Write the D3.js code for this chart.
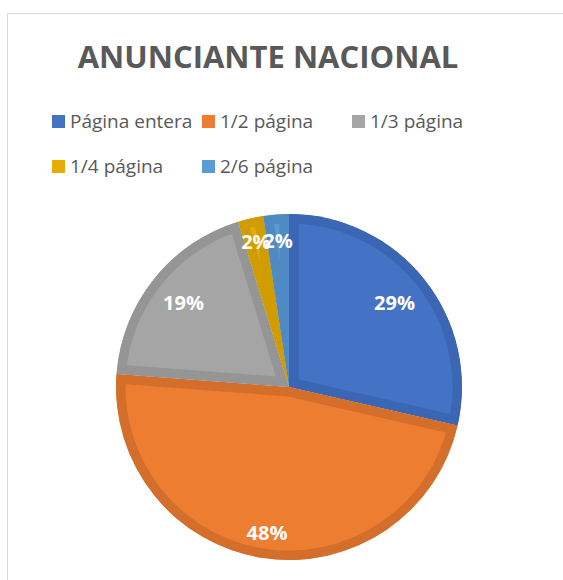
<!DOCTYPE html>
<html>
<head>
<meta charset="utf-8">
<script src="https://cdn.jsdelivr.net/npm/d3@7"></script>
<style>
  body { margin: 0; background: #fff; }
  svg text { font-family: "Open Sans", "Noto Sans", sans-serif; }
</style>
</head>
<body>
<div class="chart"></div>
<script>
// data (counts out of 42)
var categories = ['Página entera', '1/2 página', '1/3 página', '1/4 página', '2/6 página'];
var values = [12, 20, 8, 1, 1];
var fills = ['#4472C4', '#ED7D31', '#A5A5A5', '#E6AC00', '#5B9BD5'];
var edges = ['#3B66B3', '#D46E2B', '#959595', '#D09C00', '#4F8AC4'];

var width = 563, height = 580;
var cx = 289, cy = 387, r = 173;

var svg = d3.select(".chart")
    .append("svg")
    .attr("width", width)
    .attr("height", height);

// chart area border
svg.append("rect")
    .attr("x", 7.5)
    .attr("y", 13.5)
    .attr("width", width + 10)
    .attr("height", height + 10)
    .style("fill", "#fff")
    .style("stroke", "#d9d9d9")
    .style("stroke-width", 1);

//title
svg.append("text")
    .attr("x", 268)
    .attr("y", 68)
    .attr("text-anchor", "middle")
    .style("font-size", "31px")
    .style("font-weight", "bold")
    .style("fill", "#595959")
    .text("ANUNCIANTE NACIONAL");

// legend
var legend = svg.selectAll(".legend")
    .data(categories)
    .enter()
    .append("g")
    .attr("class", "legend")
    .attr("transform", function(d, i) {
        return "translate(" + (52 + (i % 3) * 150) + "," + (128 + Math.floor(i / 3) * 45) + ")";
    });

legend.append("rect")
    .attr("x", 0)
    .attr("y", -13)
    .attr("width", 13)
    .attr("height", 13)
    .style("fill", function(d, i) { return fills[i]; });

legend.append("text")
    .attr("x", 18)
    .attr("y", 0)
    .style("font-size", "19px")
    .style("fill", "#595959")
    .text(function(d) { return d; });

// pie
var pie = d3.pie().sort(null).value(function(d) { return d; });
var arcs = pie(values);
var arc = d3.arc().innerRadius(0).outerRadius(r);

var g = svg.append("g")
    .attr("transform", "translate(" + cx + "," + cy + ")");

var defs = svg.append("defs");
arcs.forEach(function(d, i) {
    defs.append("clipPath")
        .attr("id", "clip" + i)
        .append("path")
        .attr("d", arc(d));
});

// fill with a darker inner edge, Excel style
g.selectAll(".slice")
    .data(arcs)
    .enter()
    .append("path")
    .attr("class", "slice")
    .attr("d", arc)
    .attr("clip-path", function(d, i) { return "url(#clip" + i + ")"; })
    .style("fill", function(d, i) { return fills[i]; })
    .style("stroke", function(d, i) { return edges[i]; })
    .style("stroke-width", 19)
    .style("stroke-linejoin", "miter");

// data labels
var total = d3.sum(values);
var labelR = [135, 148, 135, 149, 146];

g.selectAll(".lbl")
    .data(arcs)
    .enter()
    .append("text")
    .attr("class", "lbl")
    .attr("transform", function(d, i) {
        var c = d3.arc().innerRadius(labelR[i]).outerRadius(labelR[i]).centroid(d);
        return "translate(" + c[0] + "," + c[1] + ")";
    })
    .attr("text-anchor", "middle")
    .attr("dy", "0.35em")
    .style("font-size", "20px")
    .style("font-weight", "bold")
    .style("fill", "#fff")
    .text(function(d) { return Math.round(d.data / total * 100) + "%"; });
</script>
</body>
</html>
